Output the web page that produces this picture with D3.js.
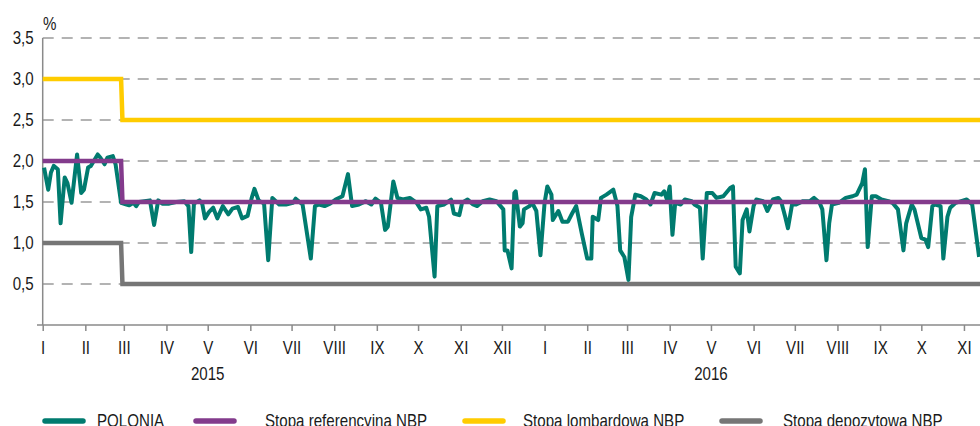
<!DOCTYPE html>
<html>
<head>
<meta charset="utf-8">
<script src="https://cdn.jsdelivr.net/npm/d3@7"></script>
<style>
  html, body { margin: 0; padding: 0; background: #fff; }
  svg { display: block; }
  text { font-family: "Liberation Sans", Arial, sans-serif; fill: #1a1a1a; }
</style>
</head>
<body>
<svg id="chart" width="980" height="426"></svg>
<script>
// ---------- DATA ----------
const monthLabels = ["I","II","III","IV","V","VI","VII","VIII","IX","X","XI","XII"];
const yearLabels = ["2015", "2016"];
const yTicks = [0.5, 1.0, 1.5, 2.0, 2.5, 3.0, 3.5];

const seriesNames = ["POLONIA", "Stopa referencyjna NBP", "Stopa lombardowa NBP", "Stopa depozytowa NBP"];

const rateDates = ["2015-01-01", "2015-02-27", "2015-02-28", "2016-12-31"];
const referenceRate = [2.0, 2.0, 1.5, 1.5];
const lombardRate = [3.0, 3.0, 2.5, 2.5];
const depositRate = [1.0, 1.0, 0.5, 0.5];

const poloniaDates = [
 "2015-01-02","2015-01-05","2015-01-07","2015-01-09","2015-01-12","2015-01-14","2015-01-17","2015-01-19","2015-01-22","2015-01-26",
 "2015-01-29","2015-01-31","2015-02-03","2015-02-05","2015-02-10","2015-02-12","2015-02-15","2015-02-17","2015-02-21","2015-02-23",
 "2015-02-27","2015-03-03","2015-03-05","2015-03-08","2015-03-10","2015-03-12","2015-03-16","2015-03-20","2015-03-23","2015-03-26",
 "2015-03-29","2015-04-03","2015-04-08","2015-04-14","2015-04-17","2015-04-19","2015-04-21","2015-04-25","2015-04-27","2015-04-29",
 "2015-05-02","2015-05-05","2015-05-08","2015-05-12","2015-05-16","2015-05-19","2015-05-23","2015-05-26","2015-05-30","2015-06-02",
 "2015-06-04","2015-06-07","2015-06-11","2015-06-14","2015-06-17","2015-06-22","2015-06-27","2015-07-02","2015-07-04","2015-07-09",
 "2015-07-15","2015-07-18","2015-07-21","2015-07-25","2015-07-29","2015-08-02","2015-08-07","2015-08-11","2015-08-14","2015-08-19",
 "2015-08-24","2015-08-28","2015-08-31","2015-09-04","2015-09-07","2015-09-09","2015-09-13","2015-09-16","2015-09-20","2015-09-25",
 "2015-09-30","2015-10-03","2015-10-07","2015-10-09","2015-10-13","2015-10-15","2015-10-20","2015-10-25","2015-10-27","2015-10-31",
 "2015-11-02","2015-11-06","2015-11-10","2015-11-13","2015-11-17","2015-11-22","2015-11-27","2015-12-02","2015-12-03","2015-12-05",
 "2015-12-08","2015-12-10","2015-12-11","2015-12-14","2015-12-16","2015-12-17","2015-12-21","2015-12-23","2015-12-26","2015-12-29",
 "2016-01-01","2016-01-03","2016-01-06","2016-01-07","2016-01-11","2016-01-14","2016-01-18","2016-01-21","2016-01-24","2016-01-28",
 "2016-02-01","2016-02-04","2016-02-05","2016-02-09","2016-02-11","2016-02-15","2016-02-20","2016-02-23","2016-02-25","2016-02-28",
 "2016-03-02","2016-03-04","2016-03-07","2016-03-11","2016-03-15","2016-03-18","2016-03-21","2016-03-26","2016-03-28","2016-03-30",
 "2016-04-01","2016-04-03","2016-04-05","2016-04-09","2016-04-12","2016-04-17","2016-04-19","2016-04-23","2016-04-25","2016-04-28",
 "2016-05-02","2016-05-05","2016-05-10","2016-05-15","2016-05-17","2016-05-19","2016-05-22","2016-05-24","2016-05-27","2016-05-29",
 "2016-06-01","2016-06-03","2016-06-08","2016-06-11","2016-06-15","2016-06-19","2016-06-21","2016-06-24","2016-06-26","2016-06-29",
 "2016-07-02","2016-07-07","2016-07-12","2016-07-15","2016-07-19","2016-07-21","2016-07-24","2016-07-26","2016-07-28","2016-08-02",
 "2016-08-07","2016-08-12","2016-08-15","2016-08-19","2016-08-21","2016-08-23","2016-08-26","2016-08-29","2016-09-02","2016-09-07",
 "2016-09-10","2016-09-14","2016-09-18","2016-09-20","2016-09-24","2016-09-26","2016-10-01","2016-10-04","2016-10-06","2016-10-09",
 "2016-10-11","2016-10-15","2016-10-17","2016-10-20","2016-10-22","2016-10-26","2016-10-30","2016-11-03","2016-11-07","2016-11-12"
];
const poloniaValues = [
 1.92,1.65,1.86,1.94,1.90,1.24,1.80,1.73,1.49,2.08,
 1.61,1.65,1.92,1.94,2.08,2.04,1.96,2.04,2.06,1.96,
 1.49,1.47,1.46,1.49,1.45,1.50,1.51,1.52,1.22,1.52,
 1.48,1.48,1.50,1.51,1.45,0.89,1.48,1.52,1.48,1.30,
 1.38,1.43,1.30,1.45,1.35,1.42,1.44,1.30,1.33,1.55,
 1.66,1.52,1.48,0.79,1.55,1.47,1.47,1.49,1.54,1.47,
 0.81,1.45,1.47,1.45,1.48,1.53,1.57,1.84,1.45,1.47,
 1.51,1.47,1.54,1.49,1.16,1.20,1.75,1.55,1.53,1.55,
 1.49,1.41,1.43,1.32,0.59,1.45,1.47,1.53,1.36,1.34,
 1.49,1.53,1.47,1.45,1.51,1.53,1.51,1.41,0.91,0.91,
 0.69,1.61,1.63,1.20,1.24,1.41,1.45,1.49,1.39,0.85,
 1.49,1.69,1.59,1.28,1.39,1.26,1.26,1.36,1.45,1.12,
 0.81,0.81,1.32,1.28,1.55,1.59,1.65,1.45,0.91,0.83,
 0.55,1.32,1.59,1.57,1.53,1.47,1.61,1.59,1.63,1.53,
 1.69,1.10,1.49,1.47,1.53,1.51,1.47,1.43,0.81,1.61,
 1.61,1.55,1.57,1.67,1.69,0.71,0.63,1.28,1.41,1.14,
 1.45,1.53,1.51,1.39,1.53,1.55,1.51,1.32,1.18,1.47,
 1.47,1.51,1.51,1.55,1.49,1.41,0.79,1.24,1.47,1.49,
 1.55,1.57,1.59,1.73,1.90,0.95,1.57,1.57,1.53,1.51,
 1.49,1.41,0.91,1.24,1.47,1.41,1.06,1.04,0.95,1.45,
 1.47,1.45,0.81,1.32,1.43,1.49,1.51,1.53,1.47,0.83
];

const colors = ["#007b6f", "#833b8c", "#ffcc00", "#767676"];

// ---------- CHART ----------
const W = 980, H = 426;
const FS = 18, SX = 0.84;   // font size and horizontal condensing (narrow face)
const svg = d3.select("#chart");
const parse = d3.timeParse("%Y-%m-%d");
const x0 = 42.7, pxPerDay = 1.375;
const start = parse("2015-01-01");
const end = d3.timeDay.offset(start, 682);
const x = d3.scaleTime().domain([start, end]).range([x0, x0 + 682 * pxPerDay]);
const y = d3.scaleLinear().domain([0, 3.5]).range([325, 38]);

// condense text horizontally around its anchor
function narrow(sel) {
  sel.each(function() {
    const t = d3.select(this);
    const xv = +(t.attr("x") || 0);
    t.attr("x", xv / SX).attr("transform", `scale(${SX},1)`);
  });
}

svg.append("defs").append("clipPath").attr("id", "clip")
  .append("rect").attr("x", 0).attr("y", 0).attr("width", W).attr("height", 340);

// gridlines
svg.append("g").selectAll("line").data(yTicks).join("line")
  .attr("x1", x0).attr("x2", W)
  .attr("y1", d => y(d)).attr("y2", d => y(d))
  .attr("stroke", "#9a9a9a").attr("stroke-width", 1.5)
  .attr("stroke-dasharray", "11,8");

// y axis
const locale = d3.formatLocale({decimal: ",", thousands: " ", grouping: [3], currency: ["", ""]});
const fmt = locale.format(".1f");
const yAxis = svg.append("g").attr("transform", `translate(${x0},0)`)
  .call(d3.axisLeft(y).tickValues(yTicks).tickSize(0).tickPadding(9).tickFormat(fmt));
yAxis.select(".domain").remove();
yAxis.selectAll("text").attr("font-size", FS).attr("fill", "#1a1a1a")
  .style("font-family", '"Liberation Sans",Arial,sans-serif').call(narrow);
svg.append("line").attr("x1", x0).attr("x2", x0).attr("y1", y(3.5)).attr("y2", y(0))
  .attr("stroke", "#8a8a8a").attr("stroke-width", 1.5);
svg.append("text").attr("x", 43).attr("y", 30).attr("font-size", FS).text("%").call(narrow);

// x axis
const monthTicks = d3.timeMonth.range(start, end);
const xAxis = svg.append("g").attr("transform", `translate(0,${y(0)})`)
  .call(d3.axisBottom(x).tickValues(monthTicks).tickSize(6).tickSizeOuter(0).tickPadding(10)
    .tickFormat(d => monthLabels[d.getMonth()]));
xAxis.select(".domain").remove();
xAxis.selectAll(".tick line").attr("stroke", "#8a8a8a").attr("stroke-width", 1.5);
xAxis.selectAll("text").attr("font-size", FS).attr("fill", "#1a1a1a").attr("dy", "0.71em")
  .style("font-family", '"Liberation Sans",Arial,sans-serif').call(narrow);
svg.append("line").attr("x1", 37).attr("x2", W).attr("y1", y(0)).attr("y2", y(0))
  .attr("stroke", "#8a8a8a").attr("stroke-width", 1.5);

// year labels
svg.append("g").selectAll("text").data(yearLabels).join("text")
  .attr("x", d => x(parse(d + "-05-01")))
  .attr("y", 380).attr("text-anchor", "middle").attr("font-size", FS)
  .text(d => d).call(narrow);

// lines
const line = d3.line().x(d => x(d.date)).y(d => y(d.value));
const rateSeries = [depositRate, lombardRate, referenceRate].map(vals =>
  rateDates.map((d, i) => ({date: parse(d), value: vals[i]})));
const polonia = poloniaDates.map((d, i) => ({date: parse(d), value: poloniaValues[i]}));

const plot = svg.append("g").attr("clip-path", "url(#clip)");
plot.append("path").datum(rateSeries[0]).attr("d", line)
  .attr("fill", "none").attr("stroke", colors[3]).attr("stroke-width", 4.5);
plot.append("path").datum(rateSeries[1]).attr("d", line)
  .attr("fill", "none").attr("stroke", colors[2]).attr("stroke-width", 4.5);
plot.append("path").datum(polonia).attr("d", line)
  .attr("fill", "none").attr("stroke", colors[0]).attr("stroke-width", 4)
  .attr("stroke-linejoin", "round");
plot.append("path").datum(rateSeries[2]).attr("d", line)
  .attr("fill", "none").attr("stroke", colors[1]).attr("stroke-width", 4.5);

// legend
const legendX = [43, 194, 463, 720];
const legend = svg.append("g").selectAll("g").data(seriesNames).join("g")
  .attr("transform", (d, i) => `translate(${legendX[i]},421)`);
legend.append("line").attr("x1", 2).attr("x2", 40).attr("y1", 0).attr("y2", 0)
  .attr("stroke", (d, i) => colors[i]).attr("stroke-width", 5.5).attr("stroke-linecap", "round");
legend.append("text").attr("x", (d, i) => [54, 71, 60, 63][i]).attr("y", 5.5)
  .attr("font-size", FS).text(d => d).call(narrow);
</script>
</body>
</html>
